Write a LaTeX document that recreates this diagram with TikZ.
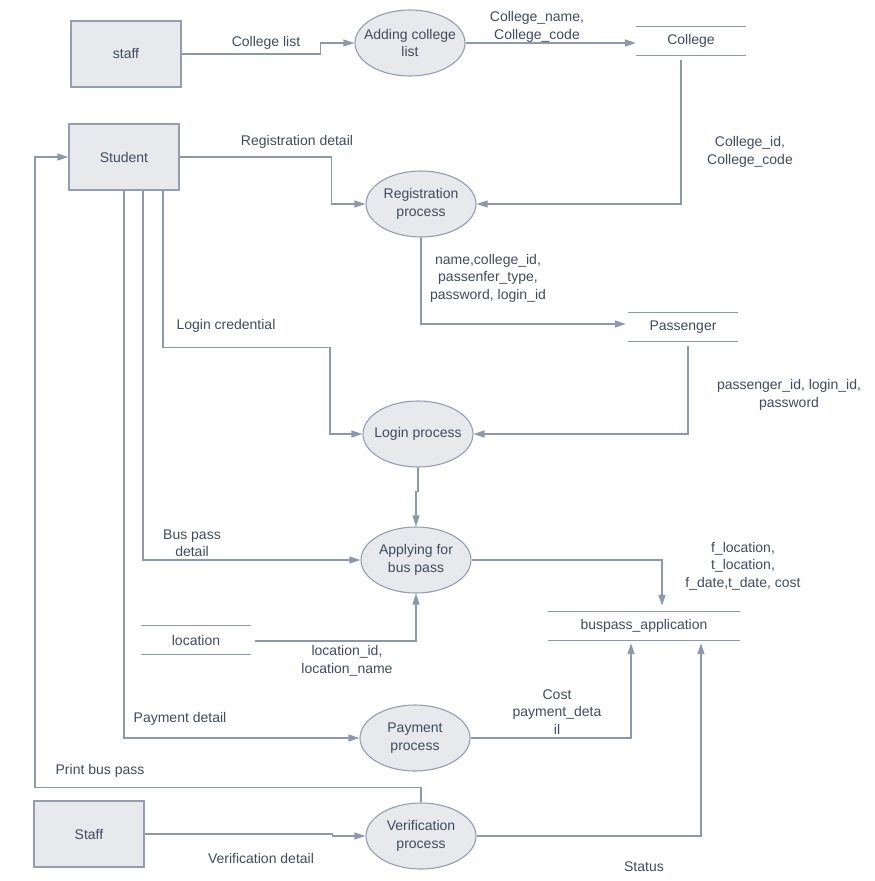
\documentclass[tikz,border=0pt]{standalone}
\usepackage{fontspec}
\setmainfont{Liberation Sans}
\usepackage{tikz}
\usetikzlibrary{shapes.geometric}
\usetikzlibrary{arrows.meta}
\usetikzlibrary{calc}
\definecolor{flowline}{HTML}{8C98AD}
\definecolor{boxfill}{HTML}{E8E9ED}
\definecolor{boxline}{HTML}{949DB1}
\definecolor{labeltext}{HTML}{404B5E}
\tikzset{
  entity/.style={draw=boxline,line width=1.4pt,fill=boxfill,minimum width=110,minimum height=66,inner sep=0pt},
  process/.style={ellipse,draw=boxline,line width=1.1pt,fill=boxfill,minimum width=110,minimum height=66,inner xsep=-10pt,inner ysep=0pt,align=center},
  store/.style={minimum width=110,minimum height=28,inner sep=0pt},
  flow/.style={draw=flowline,line width=1.2pt,->},
  lbl/.style={align=center,inner sep=0pt}
}
\begin{document}
\begin{tikzpicture}[x=1pt,y=-1pt,>={Triangle[length=11pt,width=7pt]},font=\fontsize{14}{17.5}\selectfont,text=labeltext]
\useasboundingbox (0,0) rectangle (875,881);
% entities and processes
\node[entity] (staff) at (126,54) {staff};
\node[entity] (student) at (124,157) {Student};
\node[entity] (staffb) at (89,834) {Staff};
\node[process] (add) at (410,43) {Adding college\\list};
\node[process] (reg) at (421,204) {Registration\\process};
\node[process] (login) at (418,434) {Login process};
\node[process] (apply) at (416,560) {Applying for\\bus pass};
\node[process] (pay) at (415,738) {Payment\\process};
\node[process] (verify) at (421,836) {Verification\\process};
% data stores
\node[store] (college) at (691,41) {College};
\node[store] (passenger) at (683,327) {Passenger};
\node[store, minimum width=192] (busapp) at (644,626) {buspass\_application};
\node[store] (location) at (196,640) {location};
\foreach \s in {college,passenger,busapp,location}
  \draw[draw=flowline,line width=1.1pt] (\s.north west) -- (\s.north east) (\s.south west) -- (\s.south east);
% flows
\draw[flow] (staff.east) -- ++(139,0) |- (add.west);
\draw[flow] (add.east) -- (add.east -| college.west);
\draw[flow] ($(college.south)+(-10,5)$) |- (reg.east);
\draw[flow] (student.east) -- ++(152,0) |- (reg.west);
\draw[flow] (reg.south) |- ($(passenger.west)+(-2,-3)$);
\draw[flow] ($(passenger.south)+(5,5)$) |- (login.east);
\draw[flow] ($(student.south)+(39,0)$) -- ++(0,157) -- ++(167,0) |- (login.west);
\draw[flow] (login.south) -- ++(0,24) -| (apply.north);
\draw[flow] ($(student.south)+(19,0)$) |- (apply.west);
\draw[flow] (apply.east) -| ($(busapp.north)+(18,-6)$);
\draw[flow] ($(location.east)+(4,1)$) -| (apply.south);
\draw[flow] (student.south) |- (pay.west);
\draw[flow] (pay.east) -| ($(busapp.south)+(-13,3)$);
\draw[flow] (verify.north) -- ++(0,-15) -- ++(-386,0) |- (student.west);
\draw[flow] (staffb.east) -- ++(188,0) |- (verify.west);
\draw[flow] (verify.east) -| ($(busapp.south)+(57,3)$);
% flow labels
\node[lbl] (lbllist) at (266,43) {College list};
\node[lbl] (lblcol) at (537,27) {College\_name,\\College\_code};
\node[lbl] (lblcolid) at (750,152) {College\_id,\\College\_code};
\node[lbl] (lblreg) at (297,142) {Registration detail};
\node[lbl] (lblpass) at (488,278) {name,college\_id,\\passenfer\_type,\\password, login\_id};
\node[lbl] (lblpid) at (789,395) {passenger\_id, login\_id,\\password};
\node[lbl] (lbllogin) at (226,326) {Login credential};
\node[lbl] (lblbus) at (192,543) {Bus pass\\detail};
\node[lbl] (lblfloc) at (743,566) {f\_location,\\t\_location,\\f\_date,t\_date, cost};
\node[lbl] (lblloc) at (347,661) {location\_id,\\location\_name};
\node[lbl] (lblpay) at (180,719) {Payment detail};
\node[lbl] (lblcost) at (557,712) {Cost\\payment\_deta\\il};
\node[lbl] (lblprint) at (100,771) {Print bus pass};
\node[lbl] (lblver) at (261,858) {Verification detail};
\node[lbl] (lblstat) at (644,867) {Status};
\end{tikzpicture}
\end{document}
